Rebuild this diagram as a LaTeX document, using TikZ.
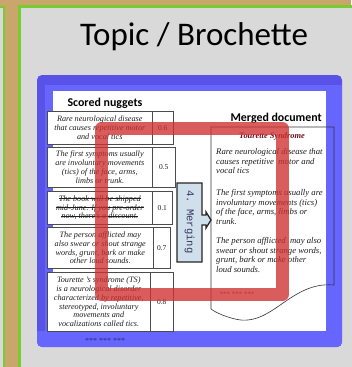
\documentclass[tikz,border=0pt]{standalone}
\usepackage{fontspec}
\setmainfont{Liberation Serif}
\setsansfont{Carlito}
\setmonofont{Liberation Mono}

\definecolor{frametan}{RGB}{201,166,107}
\definecolor{framegreen}{RGB}{118,204,48}
\definecolor{panelgray}{RGB}{217,217,217}
\definecolor{bluedark}{RGB}{88,82,232}
\definecolor{bluelight}{RGB}{102,102,255}
\definecolor{markred}{RGB}{208,48,48}
\definecolor{stepfill}{RGB}{207,224,236}
\definecolor{titlered}{RGB}{107,16,32}
\definecolor{inkgray}{RGB}{30,30,30}

\newcommand{\rowfont}{\itshape\fontsize{8.2}{8.9}\selectfont}
\newcommand{\docfont}{\itshape\fontsize{8.7}{9.8}\selectfont}
% struck-through line of text
\newcommand{\strk}[1]{\setbox0\hbox{#1}\rlap{\rule[0.28em]{\wd0}{0.55pt}}\box0}

\begin{document}
\begin{tikzpicture}[x=1pt,y=-1pt,
  rowtext/.style={draw=gray!60!black, line width=0.6pt, fill=white, inner sep=0pt,
    align=center, anchor=north west, font=\rowfont, text=inkgray},
  rowscore/.style={rowtext, font=\fontsize{7.5}{9}\selectfont},
  heading/.style={anchor=base west, font=\sffamily\bfseries\fontsize{11.9}{14}\selectfont},
  docpara/.style={anchor=north west, align=left, inner sep=0pt, font=\docfont, text=inkgray},
  docline/.style={draw=gray!40!black, line width=0.6pt}]
\useasboundingbox (0,0) rectangle (351,367);

% background frame and panels
\fill[frametan] (0,0) rectangle (351,367);
\fill[panelgray] (-10,7) rectangle (3.7,380);
\draw[framegreen, line width=2pt] (-10,7) rectangle (3.7,380);
\fill[panelgray] (19.3,6.3) rectangle (360,380);
\draw[framegreen, line width=2.4pt] (19.3,6.3) rectangle (360,380);

% title
\node[anchor=base, font=\sffamily\fontsize{33}{38}\selectfont, text=black] (title) at (194,45) {Topic / Brochette};

% blue frame around the screenshot
\fill[bluedark, rounded corners=5pt] (37,75) rectangle (342,347);
\begin{scope}
  \clip[rounded corners=5pt] (37,75) rectangle (342,347);
  \fill[bluelight] (45,85) rectangle (342,347);
  \fill[bluelight] (37,331) rectangle (342,347);
\end{scope}
\fill[white] (53,91) rectangle (326,331);

% scored nuggets
\node[heading] (scored) at (64,106) {Scored nuggets};

\node[rowtext, minimum width=105pt, minimum height=33pt] (r1t) at (47,111)
  {Rare neurological disease\\that causes repetitive motor\\and vocal tics};
\node[rowscore, minimum width=21pt, minimum height=33pt] (r1s) at (152,111) {0.6};

\node[rowtext, minimum width=105pt, minimum height=40pt] (r2t) at (47,147)
  {The first symptoms usually\\are involuntary movements\\(tics) of the face, arms,\\limbs or trunk.};
\node[rowscore, minimum width=23pt, minimum height=40pt] (r2s) at (152,147) {0.5};

\node[rowtext, minimum width=105pt, minimum height=33pt] (r3t) at (47,191)
  {\strk{The book will be shipped}\\\strk{mid-June. If you pre-order}\\\strk{now, there's a discount.}};
\node[rowscore, minimum width=20pt, minimum height=33pt] (r3s) at (152,191) {0.1};

\node[rowtext, minimum width=106pt, minimum height=41pt] (r4t) at (47,227)
  {The person afflicted may\\also swear or shout strange\\words, grunt, bark or make\\other loud sounds.};
\node[rowscore, minimum width=17pt, minimum height=41pt] (r4s) at (153,227) {0.7};

\node[rowtext, minimum width=103pt, minimum height=59pt] (r5t) at (47,272)
  {Tourette 's syndrome (TS)\\is a neurological disorder\\characterized by repetitive,\\stereotyped, involuntary\\movements and\\vocalizations called tics.};
\node[rowscore, minimum width=23pt, minimum height=59pt] (r5s) at (150,272) {0.8};

\node[anchor=base, font=\fontsize{8}{9}\selectfont, text=bluedark!50!black] (moreleft) at (105,343) {*** *** ***};

% merging step
\draw[fill=stepfill, draw=black!85, line width=1.3pt, line join=miter]
  (177,183) -- (202,183) -- (202,215) -- (206,215) -- (206,212) -- (211,220)
  -- (206,228) -- (206,225) -- (202,225) -- (202,262) -- (177,262) -- cycle;
\node[rotate=-90, font=\ttfamily\fontsize{10.5}{12}\selectfont, text=black!75!blue!60!gray] (merge) at (189.5,222) {4. Merging};

% merged document
\node[heading] (merged) at (227,121) {Merged document};
\draw[docline] (211,127) -- (334,127) -- (334,285)
  .. controls (290,281) and (272,328) .. (235,319)
  .. controls (223,316) and (215,312) .. (211,309) -- cycle;
\node[anchor=base, font=\bfseries\itshape\fontsize{8.4}{9}\selectfont, text=titlered] (doctitle) at (272,138) {Tourette Syndrome};
\node[docpara] (p1) at (216,148) {Rare neurological disease that\\causes repetitive~ motor and\\vocal tics};
\node[docpara] (p2) at (216,189) {The first symptoms usually are\\involuntary movements (tics)\\of the face, arms, limbs or\\trunk.};
\node[docpara] (p3) at (216,237) {The person afflicted~ may also\\swear or shout strange words,\\grunt, bark or make other\\loud sounds.};
\node[anchor=base west, font=\fontsize{7}{9}\selectfont, text=gray!70!black] (moreright) at (216,296) {*** *** ***};

% red highlight frame
\draw[markred, opacity=0.78, line width=13pt, line join=round] (101.5,128.5) rectangle (282.5,294.5);
\end{tikzpicture}
\end{document}
